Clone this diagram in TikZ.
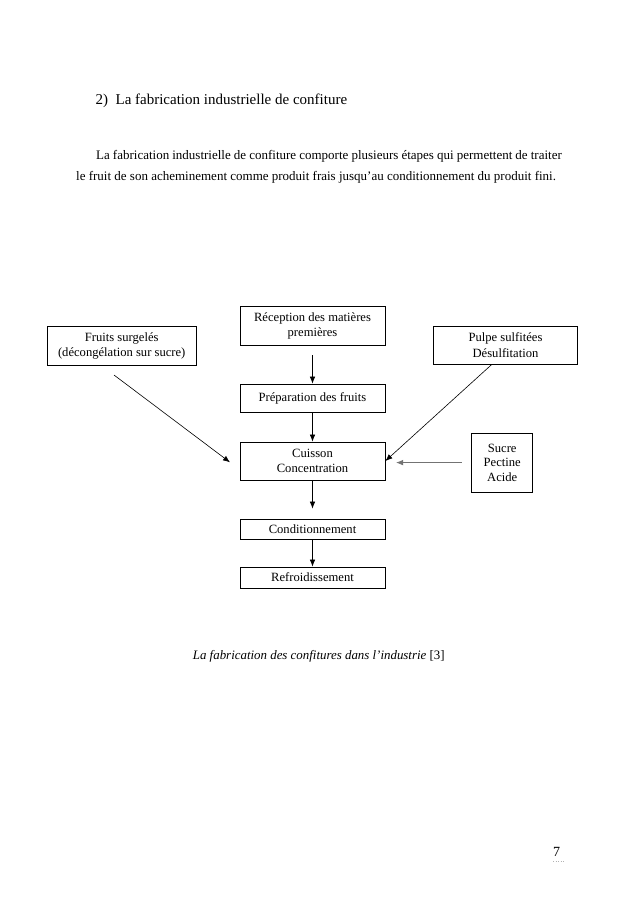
\documentclass[tikz,border=0pt]{standalone}
\usepackage{fontspec}
\setmainfont{Liberation Serif}
\usetikzlibrary{arrows.meta}
\begin{document}
\begin{tikzpicture}[x=1pt,y=-1pt,
  box/.style={draw=black,line width=0.8pt,inner sep=0pt,align=center,
    font=\fontsize{12.6}{15.2}\selectfont},
  arr/.style={line width=0.6pt,-{Latex[length=7pt,width=5.5pt]}},
  txt/.style={inner sep=0pt,anchor=base west}]
\useasboundingbox (0,0) rectangle (638,903);
\fill[white] (0,0) rectangle (638,903);
% header and paragraph
\node[txt,font=\fontsize{15}{18}\selectfont] (num) at (95.3,104.3) {2)};
\node[txt,font=\fontsize{15}{18}\selectfont] (title) at (115.4,104.3) {La fabrication industrielle de confiture};
\node[txt,font=\fontsize{13}{15.6}\selectfont] (p1) at (96,159.5) {\makebox[465.6pt][s]{La fabrication industrielle de confiture comporte plusieurs étapes qui permettent de traiter}};
\node[txt,font=\fontsize{13}{15.6}\selectfont] (p2) at (76,180) {le fruit de son acheminement comme produit frais jusqu’au conditionnement du produit fini.};
% boxes
\node[box,minimum width=148.7pt,minimum height=38.6pt] (fruits) at (121.7,346) {Fruits surgelés\\(décongélation sur sucre)};
\node[box,minimum width=145pt,minimum height=38.3pt] (rec) at (312.5,325.9) {Réception des matières\\premières};
\node[box,minimum width=144.4pt,minimum height=38.3pt] (pulpe) at (505.5,345.2) {Pulpe sulfitées\\Désulfitation};
\node[box,minimum width=145pt,minimum height=28.5pt] (prep) at (312.5,398.3) {Préparation des fruits};
\node[box,minimum width=145pt,minimum height=38pt] (cuis) at (312.5,461) {Cuisson\\Concentration};
\node[box,minimum width=61pt,minimum height=58.7pt,font=\fontsize{12.6}{14.7}\selectfont] (sucre) at (502.2,462.6) {Sucre\\Pectine\\Acide};
\node[box,minimum width=145pt,minimum height=20.3pt] (cond) at (312.5,529.2) {Conditionnement};
\node[box,minimum width=145pt,minimum height=21pt] (refr) at (312.5,577.5) {Refroidissement};
% connectors
\coordinate (fa) at (114,375);
\coordinate (fb) at (230,462.3);
\coordinate (pa) at (491.7,364.5);
\draw[arr,shorten <=10pt] (rec) -- (prep);
\draw[arr] (prep) -- (cuis);
\draw[arr,shorten >=10pt] (cuis) -- (cond);
\draw[arr] (cond) -- (refr);
\draw[arr] (fa) -- (fb);
\draw[arr] (pa) -- (cuis.east);
\draw[arr,draw=black!55,fill=black,shorten <=9.4pt,shorten >=10.7pt] (sucre.west) -- (sucre.west -| cuis.east);
% caption and page number
\node[txt,font=\fontsize{12.9}{15.5}\selectfont] (cap) at (192.7,659) {\textit{La fabrication des confitures dans l’industrie} [3]};
\node[txt,font=\fontsize{14}{16}\selectfont] (page) at (553,856.7) {7};
\draw[black!30,line width=0.5pt,dotted] (page.south west)++(0,4) -- ++(12,0);
\end{tikzpicture}
\end{document}
